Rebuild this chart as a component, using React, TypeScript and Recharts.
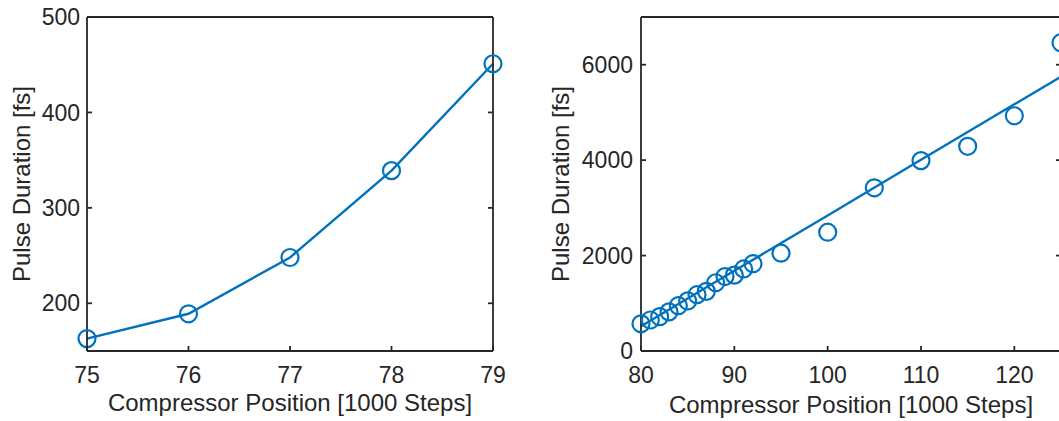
import { LineChart, Line, XAxis, YAxis, Label } from "recharts";

const BLUE = "#0072BD";
const INK = "#262626";
const FONT = '"Liberation Sans", Arial, Helvetica, sans-serif';

// left panel: fine scan around the compressor optimum
const leftPos = [75, 76, 77, 78, 79];
const leftFs = [163, 189, 248, 339, 451];

// right panel: wide scan (measured points)
const scanPos = [80, 81, 82, 83, 84, 85, 86, 87, 88, 89, 90, 91, 92, 95, 100, 105, 110, 115, 120, 125];
const scanFs = [570, 650, 720, 820, 950, 1050, 1180, 1250, 1430, 1560, 1590, 1720, 1830, 2050, 2490, 3420, 3990, 4290, 4930, 6460];

// right panel: fitted line
const fitPos = [80, 90, 100, 110, 120, 125];
const fitFs = [520, 1680, 2840, 4010, 5170, 5750];

const leftXTicks = [75, 76, 77, 78, 79];
const leftYTicks = [200, 300, 400, 500];
const rightXTicks = [80, 90, 100, 110, 120];
const rightYTicks = [0, 2000, 4000, 6000];

const leftData = leftPos.map((x, i) => ({ x, y: leftFs[i] }));
const scanData = scanPos.map((x, i) => ({ x, y: scanFs[i] }));
const fitData = fitPos.map((x, i) => ({ x, y: fitFs[i] }));

const X_LABEL = "Compressor Position [1000 Steps]";
const Y_LABEL = "Pulse Duration [fs]";

const circle = { r: 8.5, fill: "none", stroke: BLUE, strokeWidth: 2.2 };
const edge = { stroke: INK, strokeWidth: 1.8 };
const TICK_LEN = 5;
const X_GAP = 16;
const noLabel = () => <g />;

// bottom tick: label below, small tick pointing up into the plot
const bottomTick = (props: any) => {
  const { x, y, payload } = props;
  const axisY = y - X_GAP;
  return (
    <g>
      <line x1={x} x2={x} y1={axisY} y2={axisY - TICK_LEN} stroke={INK} strokeWidth={1.8} />
      <text x={x} y={y} dy="0.71em" textAnchor="middle" fontSize={23} fill={INK} fontFamily={FONT}>
        {payload.value}
      </text>
    </g>
  );
};

// left tick: label on the left, small tick pointing right into the plot
const leftTick = (gap: number) => (props: any) => {
  const { x, y, payload } = props;
  const axisX = x + gap;
  return (
    <g>
      <line x1={axisX} x2={axisX + TICK_LEN} y1={y} y2={y} stroke={INK} strokeWidth={1.8} />
      <text x={x} y={y} dy="0.355em" textAnchor="end" fontSize={23} fill={INK} fontFamily={FONT}>
        {payload.value}
      </text>
    </g>
  );
};

// top and right edges of the box, with inward ticks
function frame(xDom: number[], yDom: number[], xTicks: number[], yTicks: number[]) {
  return [
    <XAxis key="xt" xAxisId="xt" type="number" orientation="top" mirror domain={xDom} ticks={xTicks}
      allowDataOverflow interval={0} tick={noLabel} tickSize={TICK_LEN} tickLine={edge} axisLine={edge} />,
    <YAxis key="yr" yAxisId="yr" type="number" orientation="right" mirror domain={yDom} ticks={yTicks}
      allowDataOverflow interval={0} tick={noLabel} tickSize={TICK_LEN} tickLine={edge} axisLine={edge} />,
  ];
}

export default function App() {
  return (
    <div style={{ position: "absolute", left: 0, top: 0, width: 1059, height: 421, overflow: "hidden", background: "#fff", fontFamily: FONT }}>
      <div style={{ position: "absolute", left: 0, top: 0 }}>
        <LineChart width={540} height={421} margin={{ top: 17, right: 47, bottom: 0, left: 0 }}>
          <XAxis dataKey="x" type="number" domain={[75, 79]} ticks={leftXTicks} interval={0}
            height={70} tickSize={0} tickMargin={X_GAP} tickLine={false} axisLine={edge} tick={bottomTick}>
            <Label value={X_LABEL} position="insideBottom" offset={10} fontSize={24} fill={INK} fontFamily={FONT} />
          </XAxis>
          <YAxis type="number" domain={[150, 500]} ticks={leftYTicks} interval={0}
            width={87} tickSize={0} tickMargin={7} tickLine={false} axisLine={edge} tick={leftTick(7)}>
            <Label value={Y_LABEL} angle={-90} position="insideLeft" offset={21} fontSize={24} fill={INK}
              fontFamily={FONT} style={{ textAnchor: "middle" }} />
          </YAxis>
          {frame([75, 79], [150, 500], leftXTicks, leftYTicks)}
          <Line data={leftData} dataKey="y" type="linear" stroke={BLUE} strokeWidth={2.4}
            dot={circle} activeDot={false} isAnimationActive={false} />
        </LineChart>
      </div>
      <div style={{ position: "absolute", left: 540, top: 0 }}>
        <LineChart width={540} height={421} margin={{ top: 17, right: 19, bottom: 0, left: 0 }}>
          <XAxis dataKey="x" type="number" domain={[80, 125]} ticks={rightXTicks} interval={0}
            height={70} tickSize={0} tickMargin={X_GAP} tickLine={false} axisLine={edge} tick={bottomTick}>
            <Label value={X_LABEL} position="insideBottom" offset={8} fontSize={24} fill={INK} fontFamily={FONT} />
          </XAxis>
          <YAxis type="number" domain={[0, 7000]} ticks={rightYTicks} interval={0}
            width={101} tickSize={0} tickMargin={8} tickLine={false} axisLine={edge} tick={leftTick(8)}>
            <Label value={Y_LABEL} angle={-90} position="insideLeft" offset={20} fontSize={24} fill={INK}
              fontFamily={FONT} style={{ textAnchor: "middle" }} />
          </YAxis>
          {frame([80, 125], [0, 7000], rightXTicks, rightYTicks)}
          <Line data={fitData} dataKey="y" type="linear" stroke={BLUE} strokeWidth={2.4}
            dot={false} activeDot={false} isAnimationActive={false} />
          <Line data={scanData} dataKey="y" type="linear" stroke="none"
            dot={circle} activeDot={false} isAnimationActive={false} />
        </LineChart>
      </div>
    </div>
  );
}
